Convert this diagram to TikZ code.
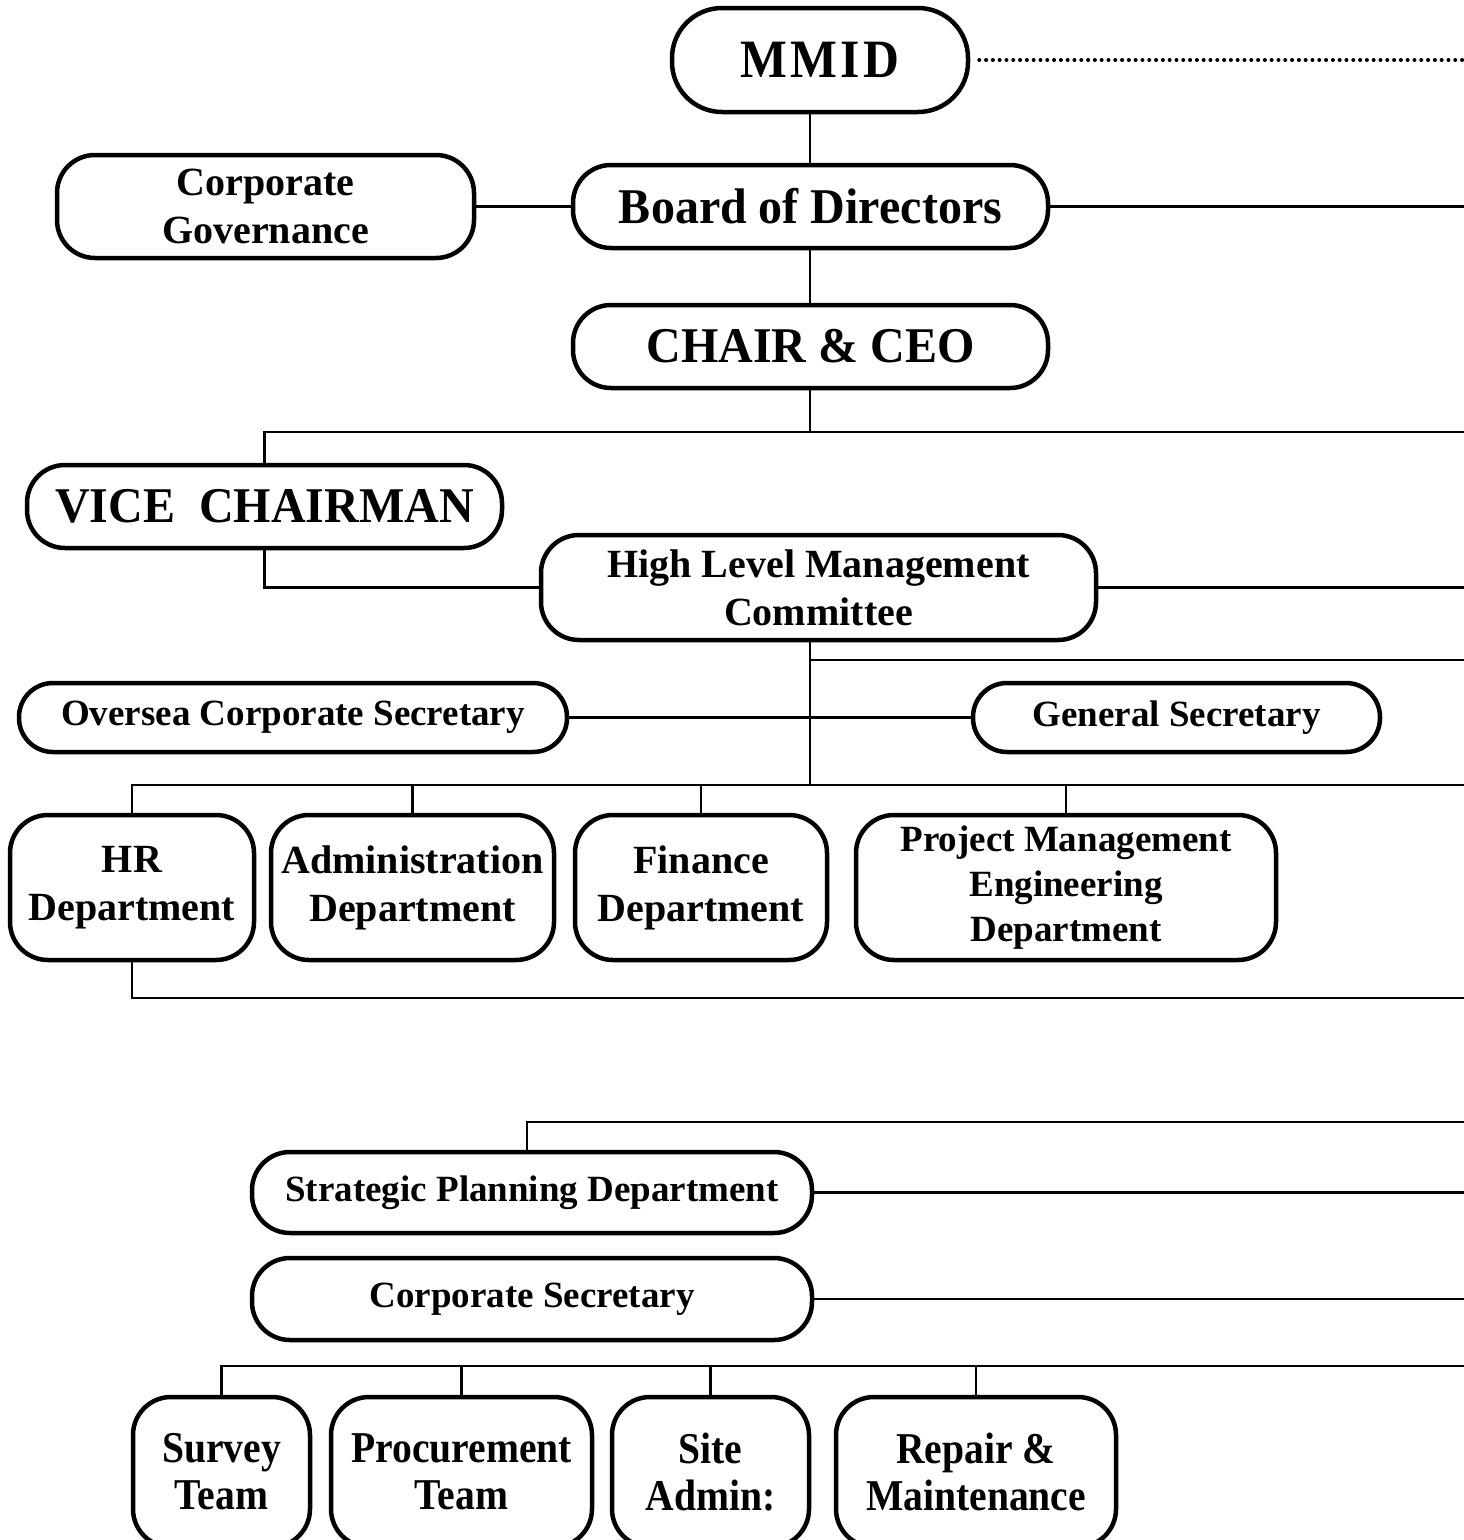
\documentclass[tikz,border=0pt]{standalone}
\usepackage{fontspec}
\setmainfont{Liberation Serif}
\begin{document}
\begin{tikzpicture}[x=1pt,y=-1pt,
  box/.style={draw, line width=4.5pt, rounded corners=38pt, align=center, inner sep=0pt, font=\bfseries},
  pill/.style={box, rounded corners=34pt},
  conn/.style={line width=2.5pt},
  dotconn/.style={line width=4pt, line cap=round, dash pattern=on 0pt off 6.8pt},
  big/.style={font=\bfseries\addfontfeatures{FakeStretch=0.96}\fontsize{50}{54}\selectfont},
  mid/.style={font=\bfseries\fontsize{40}{48}\selectfont},
  team/.style={font=\bfseries\addfontfeatures{FakeStretch=0.9}\fontsize{44}{47}\selectfont},
  small/.style={font=\bfseries\fontsize{37}{45}\selectfont}
]
\useasboundingbox (0,0) rectangle (1464,1540);
\fill[white] (0,0) rectangle (1464,1540);

% nodes
\node[box, rounded corners=50pt, minimum width=296pt, minimum height=104pt,
  font=\bfseries\addfontfeatures{FakeStretch=0.92,LetterSpace=6}\fontsize{54}{58}\selectfont]
  (mmid) at (820,60) {MMID};
\node[box, big, minimum width=475pt, minimum height=83pt] (bod) at (810.5,206.5) {Board of Directors};
\node[box, mid, minimum width=417pt, minimum height=103pt] (cg) at (265.5,206.5) {Corporate\\Governance};
\node[box, big, minimum width=475pt, minimum height=83pt] (ceo) at (810.5,346.5) {CHAIR \& CEO};
\node[box, big, minimum width=475pt, minimum height=83pt] (vice) at (264.5,506.5) {VICE\ \ CHAIRMAN};
\node[box, mid, minimum width=555pt, minimum height=105pt] (hlmc) at (818.5,587.5) {High Level Management\\Committee};
\node[pill, small, minimum width=548pt, minimum height=69pt] (osec) at (293,717.5) {Oversea Corporate Secretary};
\node[pill, small, minimum width=407pt, minimum height=69pt] (gsec) at (1176.5,717.5) {General Secretary};
\node[box, mid, minimum width=244pt, minimum height=145pt] (hr) at (132,887.5) {HR\\Department};
\node[box, mid, minimum width=283pt, minimum height=145pt] (adm) at (412.5,887.5) {Administration\\Department};
\node[box, mid, minimum width=252pt, minimum height=145pt] (fin) at (701,887.5) {Finance\\Department};
\node[box, small, minimum width=420pt, minimum height=145pt] (pme) at (1066,887.5) {Project Management\\Engineering\\Department};
\node[box, small, minimum width=560pt, minimum height=81pt] (spd) at (532,1192.5) {Strategic Planning Department};
\node[box, small, minimum width=560pt, minimum height=82pt] (cs) at (532,1299) {Corporate Secretary};
\node[box, team, minimum width=177pt, minimum height=150pt] (survey) at (221.5,1472) {Survey\\Team};
\node[box, team, minimum width=261pt, minimum height=150pt] (proc) at (461.5,1472) {Procurement\\Team};
\node[box, team, minimum width=197pt, minimum height=150pt] (site) at (710.5,1472) {Site\\Admin:};
\node[box, team, minimum width=280pt, minimum height=150pt] (rep) at (976,1472) {Repair \&\\Maintenance};

% helper coordinates
\coordinate (spine) at (810,0);
\coordinate (R) at (1470,0);
\coordinate (bar1) at (0,432);
\coordinate (b660) at (0,660);
\coordinate (bar3) at (0,785);
\coordinate (bar4) at (0,998);
\coordinate (bar5) at (0,1122);
\coordinate (bar6) at (0,1366);

% connectors
\draw[dotconn] ([xshift=9pt]mmid.east) -- (mmid.east -| R);
\draw[conn] (bod.north -| spine) -- (mmid.south -| spine);
\draw[conn] (bod.west) -- (cg.east);
\draw[conn] (bod.east) -- (bod.east -| R);
\draw[conn] (bod.south -| spine) -- (ceo.north -| spine);
\draw[conn] (ceo.south -| spine) -- (spine |- bar1);
\draw[conn] (vice.north) |- (R |- bar1);
\draw[conn] (vice.south) |- (hlmc.west);
\draw[conn] (hlmc.east) -- (hlmc.east -| R);
\draw[conn] (spine |- hlmc.south) -- (spine |- bar3);
\draw[conn] (spine |- b660) -- (R |- b660);
\draw[conn] (osec.east) -- (gsec.west);
\draw[conn] (hr.north) |- (R |- bar3);
\draw[conn] (adm.north) -- (adm.north |- bar3);
\draw[conn] (fin.north) -- (fin.north |- bar3);
\draw[conn] (pme.north) -- (pme.north |- bar3);
\draw[conn] (hr.south) |- (R |- bar4);
\draw[conn] ([xshift=-5pt]spd.north) |- (R |- bar5);
\draw[conn] (spd.east) -- (spd.east -| R);
\draw[conn] (cs.east) -- (cs.east -| R);
\draw[conn] (survey.north) |- (R |- bar6);
\draw[conn] (proc.north) -- (proc.north |- bar6);
\draw[conn] (site.north) -- (site.north |- bar6);
\draw[conn] (rep.north) -- (rep.north |- bar6);
\end{tikzpicture}
\end{document}
